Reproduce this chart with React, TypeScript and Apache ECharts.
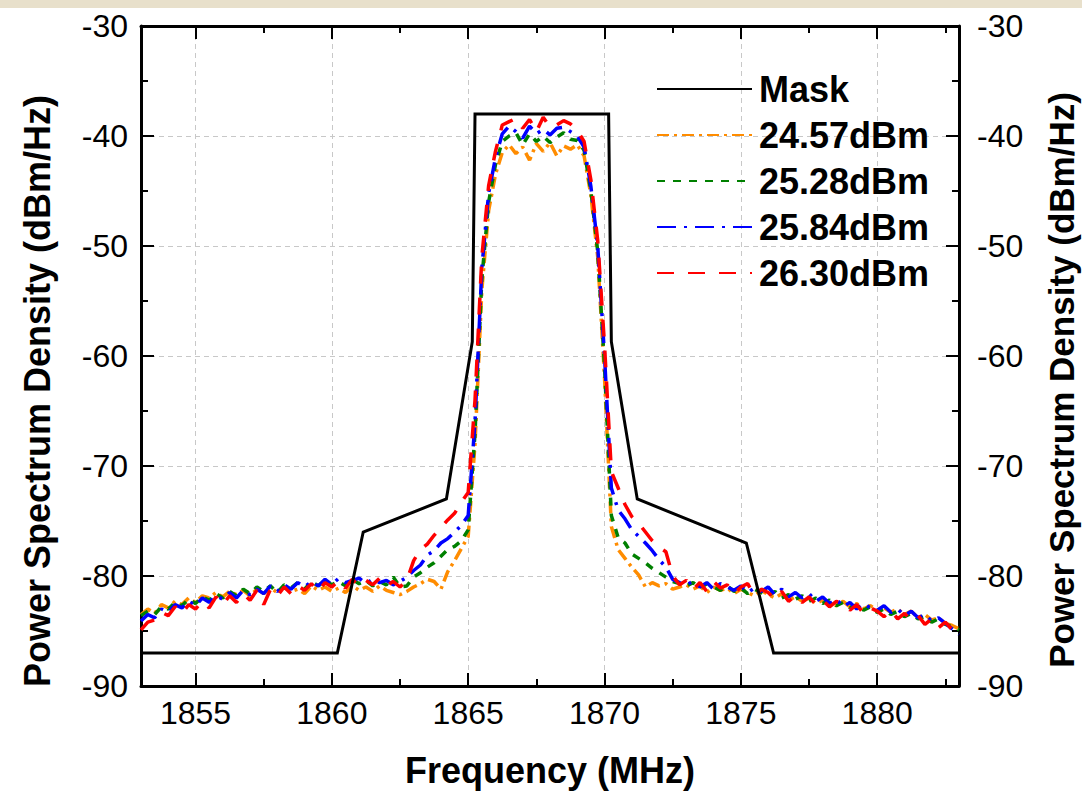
import React, { useEffect, useRef } from "react";
import * as echarts from "echarts";

// Frequency grid (MHz)
const FREQ_MHZ = [
  1853, 1853.25, 1853.5, 1853.75,
  1854, 1854.25, 1854.5, 1854.75,
  1855, 1855.25, 1855.5, 1855.75,
  1856, 1856.25, 1856.5, 1856.75,
  1857, 1857.25, 1857.5, 1857.75,
  1858, 1858.25, 1858.5, 1858.75,
  1859, 1859.25, 1859.5, 1859.75,
  1860, 1860.25, 1860.5, 1860.75,
  1861, 1861.25, 1861.5, 1861.75,
  1862, 1862.25, 1862.5, 1862.75,
  1863, 1863.25, 1863.5, 1863.75,
  1864, 1864.25, 1864.5, 1864.75,
  1865, 1865.25, 1865.5, 1865.75,
  1866, 1866.25, 1866.5, 1866.75,
  1867, 1867.25, 1867.5, 1867.75,
  1868, 1868.25, 1868.5, 1868.75,
  1869, 1869.25, 1869.5, 1869.75,
  1870, 1870.25, 1870.5, 1870.75,
  1871, 1871.25, 1871.5, 1871.75,
  1872, 1872.25, 1872.5, 1872.75,
  1873, 1873.25, 1873.5, 1873.75,
  1874, 1874.25, 1874.5, 1874.75,
  1875, 1875.25, 1875.5, 1875.75,
  1876, 1876.25, 1876.5, 1876.75,
  1877, 1877.25, 1877.5, 1877.75,
  1878, 1878.25, 1878.5, 1878.75,
  1879, 1879.25, 1879.5, 1879.75,
  1880, 1880.25, 1880.5, 1880.75,
  1881, 1881.25, 1881.5, 1881.75,
  1882, 1882.25, 1882.5, 1882.75,
  1883,
];

// Spectrum emission mask
const MASK_FREQ = [1853, 1860.2, 1861.15, 1864.2, 1865.15, 1865.25, 1870.15, 1870.25, 1871.2, 1875.2, 1876.2, 1883];
const MASK_PSD = [-87, -87, -76, -73, -58.7, -38, -38, -58.7, -73, -77, -87, -87];

// 24.57 dBm output (orange)
const PSD_2457 = [
  -83.5, -83.0, -83.4, -82.6, -82.9, -82.3, -82.6, -82.0, -82.4, -81.8,
  -82.0, -81.5, -81.9, -81.4, -81.7, -81.3, -81.8, -81.2, -81.6, -81.1,
  -81.5, -81.0, -81.4, -81.2, -81.6, -80.9, -81.3, -81.0, -81.4, -81.1,
  -81.5, -80.9, -81.3, -81.0, -81.4, -80.9, -81.3, -81.5, -81.7,
  -81.4, -81.0, -80.7, -80.3, -80.5, -81.2, -79.6, -78.6, -77.5, -76.4,
  -68.0, -54.0, -46.8, -43.5, -41.5,
  -40.8, -41.6, -41.0, -42.2, -40.7, -41.4, -40.6, -41.8, -40.9, -41.2, -40.8,
  -41.8, -45.4, -51.0, -62.0, -75.5, -77.6,
  -78.4, -79.2, -79.9, -81.0, -80.6, -80.9, -80.7, -81.2, -81.0,
  -80.8, -81.2, -80.9, -81.5, -81.0, -81.3, -81.1, -81.6, -81.2, -81.5,
  -81.8, -81.3, -81.7, -82.0, -81.6, -82.2, -81.9, -82.3, -82.0, -82.5,
  -82.2, -82.4, -82.7, -82.3, -82.8, -82.5, -83.0, -82.7, -83.1, -82.9,
  -83.3, -83.0, -83.5, -83.2, -83.8, -83.5, -84.0, -83.8, -84.3, -84.5, -84.8,
];

// 25.28 dBm output (green)
const PSD_2528 = [
  -83.6, -83.2, -83.5, -82.8, -83.0, -82.4, -82.7, -82.1, -82.5, -81.9,
  -82.2, -81.6, -82.0, -81.4, -81.8, -81.2, -81.6, -81.0, -81.4, -80.9,
  -81.5, -80.8, -81.1, -80.6, -81.2, -80.5, -80.9, -80.4, -80.8, -80.5,
  -80.9, -80.3, -80.7, -80.4, -80.9, -80.5, -80.8, -80.1, -81.0,
  -80.9, -80.1, -79.7, -79.2, -78.8, -78.2, -77.6, -77.3, -76.8, -75.8,
  -67.0, -53.0, -46.0, -42.6, -40.5,
  -40.0, -39.7, -40.8, -39.8, -40.5, -40.0, -40.6, -40.1, -39.7, -40.3, -40.4,
  -41.3, -45.0, -50.5, -61.0, -74.5, -76.5,
  -77.0, -78.0, -78.4, -78.8, -79.3, -79.7, -80.1, -80.5, -80.7,
  -80.9, -80.6, -81.1, -80.7, -81.0, -81.3, -80.9, -81.4, -81.1, -81.6,
  -81.2, -81.5, -81.8, -81.4, -82.0, -81.7, -82.1, -81.8, -82.3, -82.0,
  -82.5, -82.2, -82.7, -82.4, -82.9, -82.6, -83.1, -82.8, -83.3, -83.0,
  -83.5, -83.2, -83.7, -83.4, -83.9, -83.7, -84.2, -83.9, -84.4, -84.6, -84.9,
];

// 25.84 dBm output (blue)
const PSD_2584 = [
  -84.1, -83.5, -83.8, -83.0, -83.3, -82.6, -82.9, -82.3, -82.7, -82.0,
  -82.4, -81.8, -82.1, -81.5, -82.0, -81.3, -81.7, -81.2, -81.6, -80.9,
  -81.4, -80.8, -81.2, -80.6, -81.0, -80.5, -80.9, -80.3, -80.8, -80.2,
  -80.6, -80.4, -80.2, -80.7, -80.3, -80.6, -80.4, -80.8, -80.5,
  -80.1, -79.5, -79.0, -78.1, -77.7, -77.0, -76.6, -76.0, -75.4, -74.5,
  -66.0, -52.0, -45.2, -42.0, -39.8,
  -39.1, -39.6, -40.2, -39.1, -39.8, -39.4, -39.9, -39.3, -39.2, -39.6, -40.0,
  -41.0, -44.6, -50.0, -60.0, -72.0, -74.0,
  -74.8, -75.8, -76.4, -77.0, -77.7, -78.5, -79.2, -80.3, -80.6,
  -80.8, -80.5, -81.0, -80.6, -81.2, -80.7, -81.0, -81.3, -80.9, -81.5,
  -81.1, -81.4, -81.0, -81.7, -81.2, -81.9, -81.5, -82.0, -81.6, -82.3,
  -81.9, -82.5, -82.1, -82.8, -82.4, -83.0, -82.5, -82.9, -83.1, -82.7,
  -83.3, -83.0, -83.6, -83.2, -83.8, -83.5, -84.1, -83.8, -84.3, -84.8, -85.3,
];

// 26.30 dBm output (red)
const PSD_2630 = [
  -84.9, -84.2, -84.0, -83.3, -83.6, -82.8, -83.4, -82.6, -83.0, -82.3,
  -82.9, -81.9, -82.6, -81.8, -82.4, -81.6, -82.2, -81.3, -82.6, -81.2,
  -81.8, -81.0, -81.6, -80.9, -81.3, -80.7, -81.4, -80.6, -81.0, -80.4,
  -81.1, -80.3, -80.9, -80.4, -80.8, -80.2, -80.9, -80.5, -81.0,
  -80.4, -78.6, -77.6, -77.1, -76.3, -75.6, -74.9, -74.3, -73.3, -72.4,
  -64.0, -51.0, -44.5, -41.4, -39.0,
  -38.7, -38.4, -39.3, -38.5, -39.6, -38.3, -39.2, -39.0, -38.6, -38.9, -39.5,
  -40.5, -44.0, -49.5, -59.0, -70.5, -72.0,
  -73.5, -74.6, -75.2, -76.0, -76.8, -77.4, -77.8, -80.0, -80.8,
  -80.4, -81.2, -80.6, -81.4, -80.5, -81.1, -80.8, -81.6, -81.0, -80.7,
  -81.8, -81.2, -81.5, -82.1, -81.4, -82.3, -81.8, -82.4, -81.9, -82.6,
  -82.2, -82.8, -82.3, -82.5, -83.1, -82.6, -83.4, -82.9, -83.2, -83.7,
  -83.1, -83.9, -83.4, -84.0, -83.6, -84.4, -83.9, -84.7, -84.2, -84.9, -85.1,
];

const SERIES_NAMES = ["Mask", "24.57dBm", "25.28dBm", "25.84dBm", "26.30dBm"];
const X_MAJOR_TICKS = [1855, 1860, 1865, 1870, 1875, 1880];
const X_MINOR_TICKS = [1857.5, 1862.5, 1867.5, 1872.5, 1877.5, 1882.5];
const Y_TITLE = "Power Spectrum Density (dBm/Hz)";
const X_TITLE = "Frequency (MHz)";

export default function App() {
  const ref = useRef<HTMLDivElement>(null);

  useEffect(() => {
    if (!ref.current) return;
    const chart = echarts.init(ref.current, null, { renderer: "svg" });
    const font = 'Arial, "Liberation Sans", sans-serif';
    const pair = (ys: number[]) => FREQ_MHZ.map((f, i) => [f, ys[i]]);
    const black = "#000";
    const tickStyle = { color: black, width: 2 };
    const gridLine = { show: true, lineStyle: { color: "#c8c8c8", width: 1, type: [5, 4] } };
    const plainNumber = (v: number) => String(v);

    const xBase = { type: "value", min: 1853, max: 1883 };
    const dataSeries = (name: string, ys: number[], color: string, dash: number[]) => ({
      name,
      type: "line",
      xAxisIndex: 0,
      yAxisIndex: 0,
      data: pair(ys),
      symbol: "none",
      showSymbol: false,
      z: 2,
      itemStyle: { color },
      lineStyle: { color, width: 3.5, type: dash },
    });

    const option = {
      animation: false,
      backgroundColor: "#ffffff",
      grid: [
        { left: 141, right: 123, top: 26, bottom: 114 },
        { left: 141, right: 123, top: 26, bottom: 114 },
      ],
      xAxis: [
        {
          ...xBase,
          gridIndex: 0,
          position: "bottom",
          name: X_TITLE,
          nameLocation: "middle",
          nameGap: 66,
          nameTextStyle: { fontFamily: font, fontSize: 36, fontWeight: "bold", color: black },
          axisLine: { show: true, onZero: false, lineStyle: { color: black, width: 3 } },
          axisTick: { show: true, inside: true, length: 13, customValues: X_MAJOR_TICKS, lineStyle: tickStyle },
          axisLabel: {
            show: true,
            customValues: X_MAJOR_TICKS,
            formatter: plainNumber,
            fontFamily: font,
            fontSize: 32,
            color: black,
            margin: 11,
          },
          splitLine: gridLine,
        },
        {
          ...xBase,
          gridIndex: 0,
          position: "top",
          axisLine: { show: true, onZero: false, lineStyle: { color: black, width: 3 } },
          axisTick: { show: true, inside: true, length: 13, customValues: X_MAJOR_TICKS, lineStyle: tickStyle },
          axisLabel: { show: false },
          splitLine: { show: false },
        },
        {
          ...xBase,
          gridIndex: 1,
          position: "bottom",
          axisLine: { show: false },
          axisTick: { show: true, inside: true, length: 7, customValues: X_MINOR_TICKS, lineStyle: tickStyle },
          axisLabel: { show: false },
          splitLine: { show: false },
        },
        {
          ...xBase,
          gridIndex: 1,
          position: "top",
          axisLine: { show: false },
          axisTick: { show: true, inside: true, length: 7, customValues: X_MINOR_TICKS, lineStyle: tickStyle },
          axisLabel: { show: false },
          splitLine: { show: false },
        },
      ],
      yAxis: [
        {
          type: "value",
          gridIndex: 0,
          position: "left",
          min: -90,
          max: -30,
          interval: 10,
          axisLine: { show: true, onZero: false, lineStyle: { color: black, width: 3 } },
          axisTick: { show: true, inside: true, length: 13, lineStyle: tickStyle },
          minorTick: { show: true, splitNumber: 2, length: 7, lineStyle: tickStyle },
          axisLabel: { formatter: plainNumber, fontFamily: font, fontSize: 32, color: black, margin: 13 },
          splitLine: gridLine,
        },
        {
          type: "value",
          gridIndex: 0,
          position: "right",
          min: -90,
          max: -30,
          interval: 10,
          axisLine: { show: true, onZero: false, lineStyle: { color: black, width: 3 } },
          axisTick: { show: true, inside: true, length: 13, lineStyle: tickStyle },
          minorTick: { show: true, splitNumber: 2, length: 7, lineStyle: tickStyle },
          axisLabel: { formatter: plainNumber, fontFamily: font, fontSize: 32, color: black, margin: 18 },
          splitLine: { show: false },
        },
        { type: "value", gridIndex: 1, min: -90, max: -30, show: false },
      ],
      legend: {
        show: true,
        orient: "vertical",
        left: 651,
        top: 66,
        itemWidth: 95,
        itemHeight: 14,
        itemGap: 10,
        selectedMode: false,
        itemStyle: { opacity: 0 },
        textStyle: { fontFamily: font, fontSize: 36, fontWeight: "bold", color: black, lineHeight: 36, padding: [0, 0, 0, 2] },
        data: SERIES_NAMES,
      },
      graphic: [
        { type: "rect", x: 0, y: 0, shape: { x: 0, y: 0, width: 1082, height: 8 }, style: { fill: "#e8e0cb" }, z: 10 },
        {
          type: "text",
          x: 37,
          y: 391,
          rotation: Math.PI / 2,
          style: { text: Y_TITLE, font: `bold 36px ${font}`, fill: black, align: "center", verticalAlign: "middle" },
        },
        {
          type: "text",
          x: 1061,
          y: 380,
          rotation: Math.PI / 2,
          style: { text: Y_TITLE, font: `bold 35px ${font}`, fill: black, align: "center", verticalAlign: "middle" },
        },
      ],
      series: [
        {
          name: SERIES_NAMES[0],
          type: "line",
          xAxisIndex: 0,
          yAxisIndex: 0,
          data: MASK_FREQ.map((f, i) => [f, MASK_PSD[i]]),
          symbol: "none",
          showSymbol: false,
          z: 4,
          itemStyle: { color: black },
          lineStyle: { color: black, width: 3, type: "solid", join: "miter" },
        },
        dataSeries(SERIES_NAMES[1], PSD_2457, "#ff8c00", [12, 5, 3, 5]),
        dataSeries(SERIES_NAMES[2], PSD_2528, "#008000", [8, 8]),
        dataSeries(SERIES_NAMES[3], PSD_2584, "#0000ff", [19, 8, 3, 8]),
        dataSeries(SERIES_NAMES[4], PSD_2630, "#ff0000", [17, 14]),
      ],
    };

    chart.setOption(option as any);
    return () => chart.dispose();
  }, []);

  return (
    <div
      ref={ref}
      style={{ position: "absolute", left: 0, top: 0, width: 1082, height: 800, background: "#fff" }}
    />
  );
}
